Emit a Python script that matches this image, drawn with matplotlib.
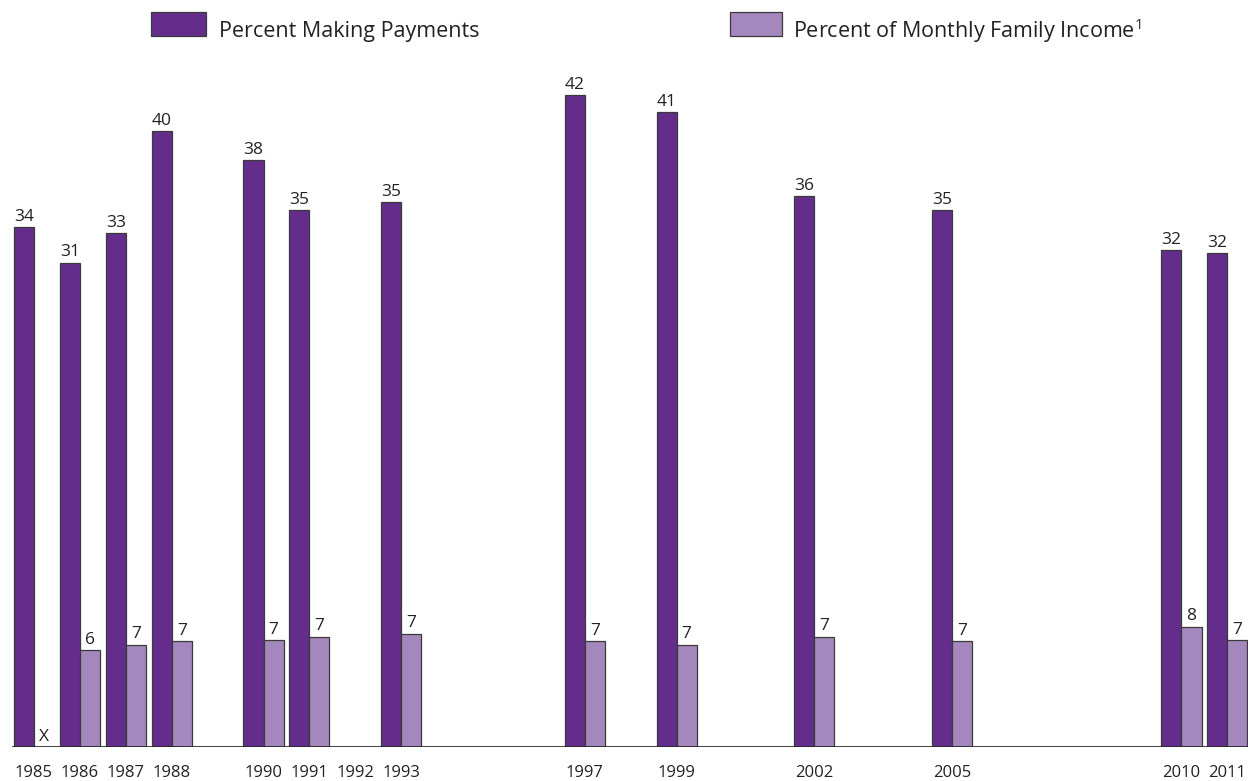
import matplotlib
matplotlib.use("Agg")
import matplotlib.pyplot as plt
from matplotlib.patches import Rectangle

plt.rcParams['font.family'] = ['Open Sans', 'DejaVu Sans']
plt.rcParams['mathtext.default'] = 'regular'

years = [1985, 1986, 1987, 1988, 1990, 1991, 1993, 1997, 1999, 2002, 2005, 2010, 2011]
payments = [33.5, 31.2, 33.1, 39.7, 37.8, 34.6, 35.1, 42.0, 40.9, 35.5, 34.6, 32.0, 31.8]
income = [None, 6.25, 6.6, 6.8, 6.9, 7.1, 7.3, 6.8, 6.6, 7.1, 6.8, 7.75, 6.9]
tick_years = [1985, 1986, 1987, 1988, 1990, 1991, 1992, 1993, 1997, 1999, 2002, 2005, 2010, 2011]

dark = "#642d8b"
light = "#a487bd"
edge = "#3a3a3a"
w = 0.436

fig = plt.figure(figsize=(12.48, 7.81), dpi=100)
ax = fig.add_axes([0, 34/781, 1, 747/781])
ax.set_xlim(1984.477, 2011.667)
ax.set_ylim(0, 747/15.52)

for y, p, inc in zip(years, payments, income):
    ax.bar(y, p, width=w, color=dark, edgecolor=edge, linewidth=0.9, zorder=2)
    ax.text(y, p + 0.15, f"{p:.0f}", ha="center", va="bottom", fontsize=12.5, color="#222")
    if inc is None:
        ax.text(y + w, 0.1, "X", ha="center", va="bottom", fontsize=12.5, color="#222")
    else:
        ax.bar(y + w, inc, width=w, color=light, edgecolor=edge, linewidth=0.9, zorder=2)
        ax.text(y + w, inc + 0.15, f"{inc:.0f}", ha="center", va="bottom", fontsize=12.5, color="#222")

ax.axhline(0, xmin=13/1248, xmax=1, color="#222", linewidth=1.2, zorder=3)
for s in ax.spines.values():
    s.set_visible(False)
ax.set_yticks([])
ax.set_xticks([y + w/2 for y in tick_years])
ax.set_xticklabels([str(y) for y in tick_years], fontsize=12, color="#222")
ax.tick_params(axis="x", length=0, pad=13)

# legend
fig.patches.append(Rectangle((151/1248, 1 - 36/781), 55/1248, 24/781, transform=fig.transFigure,
                             facecolor=dark, edgecolor=edge, linewidth=0.9))
fig.text(219/1248, 1 - 31/781, "Percent Making Payments", fontsize=15.5, va="center", color="#222")
fig.patches.append(Rectangle((730/1248, 1 - 36/781), 52/1248, 24/781, transform=fig.transFigure,
                             facecolor=light, edgecolor=edge, linewidth=0.9))
fig.text(793/1248, 1 - 31/781, "Percent of Monthly Family Income$^{1}$", fontsize=15.5, va="center", color="#222")

fig.savefig("out.png", dpi=100)
